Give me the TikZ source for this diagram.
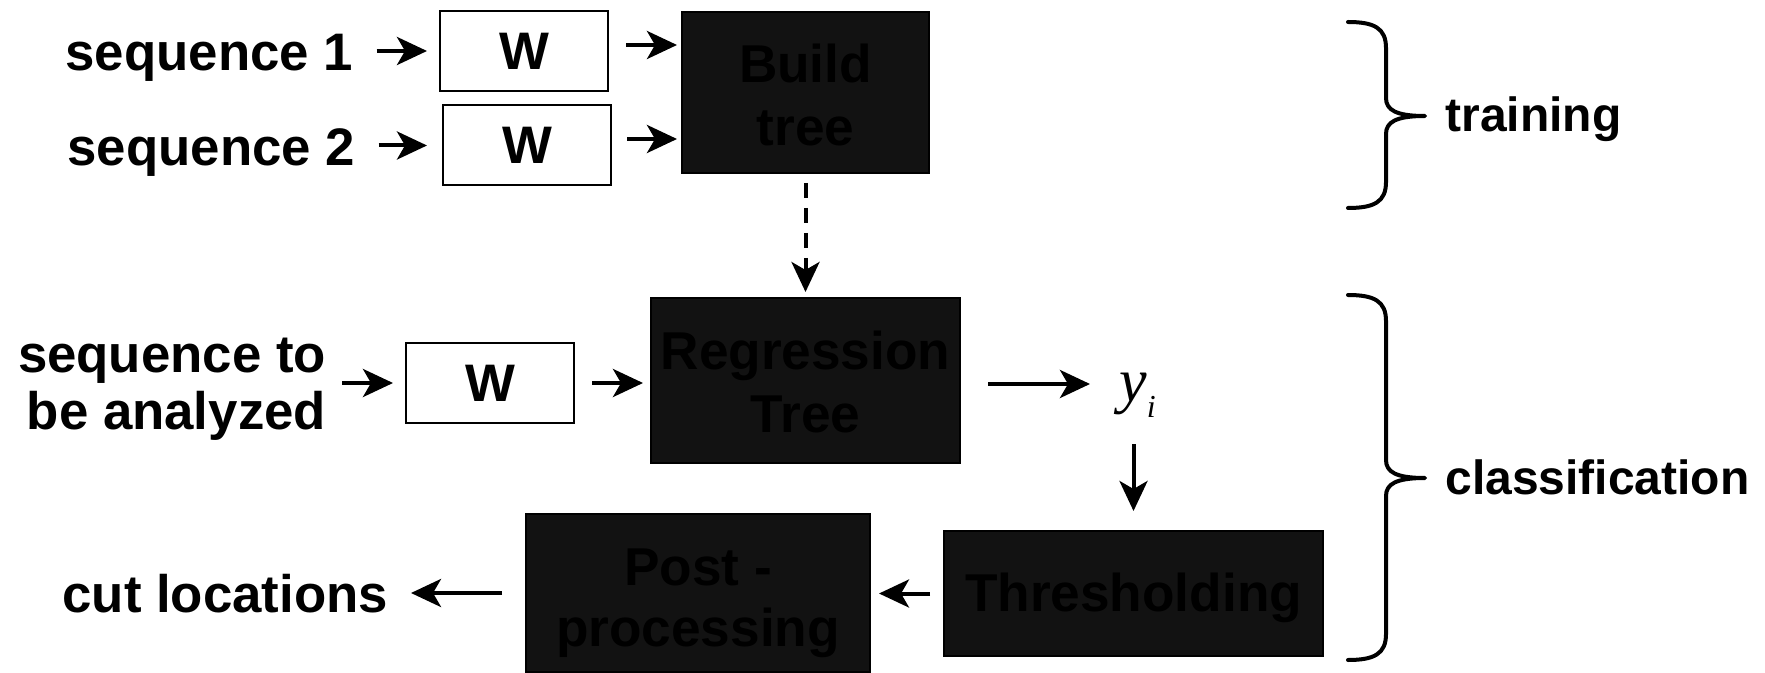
\documentclass[tikz,border=0pt]{standalone}
\usepackage{fontspec}
\setmainfont{Liberation Sans}
\newfontfamily\serifit{Liberation Serif}
\usetikzlibrary{arrows.meta}

% centred block of lines, lowered by #1 without changing its box
\newcommand\blocktext[2]{\raisebox{#1}[\height][\depth]{\begin{tabular}{@{}c@{}}#2\end{tabular}}}

\tikzset{
  lbl/.style={inner sep=0pt, font=\bfseries\fontsize{26.4}{28.5}\selectfont},
  sidelbl/.style={inner sep=0pt, font=\bfseries\fontsize{24}{28}\selectfont},
  wbox/.style={draw=black, line width=1pt, fill=white, minimum width=84pt,
    minimum height=40pt, inner sep=0pt, font=\bfseries\fontsize{26.4}{31.5}\selectfont},
  darkbox/.style={draw=black, line width=1pt, fill=black!93, text=black, inner sep=0pt},
  skip/.style={font=\bfseries\fontsize{26.6}{#1}\selectfont},
  arr/.style={line width=2pt, -{Stealth[length=15pt,width=14pt,inset=4pt]}},
  curly/.style={line width=2pt, line cap=round, line join=round},
}

\begin{document}
\begin{tikzpicture}[x=0.5pt,y=-0.5pt]
  \fill[white] (0,0) rectangle (1765,673);
  \useasboundingbox (0,0) rectangle (1765,673);

  % training inputs
  \node[lbl, anchor=base east] (seqA) at (353.5,71) {sequence 1};
  \node[lbl, anchor=base east] (seqB) at (355.5,166) {sequence 2};
  \node[wbox] (wA) at (524,51) {W};
  \node[wbox] (wB) at (527,145.5) {W};
  \node[darkbox, skip=31.5pt, minimum width=123.5pt, minimum height=80.5pt] (build)
    at (805.5,92.5) {\blocktext{-4.7pt}{Build\\tree}};

  % classification chain
  \node[lbl, anchor=east, align=right] (seqC) at (326.5,389) {sequence to\\be analyzed};
  \node[wbox] (wC) at (490,383) {W};
  \node[darkbox, skip=31.5pt, minimum width=154.5pt, minimum height=82.5pt] (reg)
    at (805.5,380.5) {\blocktext{-3.7pt}{Regression\\Tree}};
  \node[inner sep=0pt, anchor=base west] (yi) at (1119,401)
    {\serifit\itshape\fontsize{31}{31}\selectfont y\raisebox{-8pt}{\fontsize{16}{16}\selectfont i}};
  \node[darkbox, skip=31.5pt, minimum width=189.5pt, minimum height=62.5pt] (thr)
    at (1133.5,593.5) {\blocktext{-2.5pt}{Thresholding}};
  \node[darkbox, skip=30.5pt, minimum width=172pt, minimum height=79pt] (post)
    at (698,593) {\blocktext{-5.2pt}{Post -\\processing}};
  \node[lbl, anchor=base east] (cut) at (388.5,612) {cut locations};

  % group labels
  \node[sidelbl, anchor=base west] (train) at (1445,132) {training};
  \node[sidelbl, anchor=base west] (classif) at (1445,494) {classification};

  % connectors
  \draw[arr, shorten <=11.5pt, shorten >=6pt] (seqA.east |- wA.west) -- (wA.west);
  \draw[arr, shorten <=11.5pt, shorten >=7.5pt] (seqB.east |- wB.west) -- (wB.west);
  \draw[arr, shorten <=8.5pt, shorten >=2pt] ([yshift=3pt]wA.east) -- ([yshift=3pt]wA.east -| build.west);
  \draw[arr, shorten <=7.5pt, shorten >=2pt] ([yshift=3.25pt]wB.east) -- ([yshift=3.25pt]wB.east -| build.west);
  \draw[arr, dash pattern=on 7.5pt off 5pt, shorten <=4.5pt, shorten >=2.5pt] (build.south) -- (reg.north);
  \draw[arr, shorten <=7.75pt, shorten >=6pt] (seqC.east |- wC.west) -- (wC.west);
  \draw[arr, shorten <=8.5pt, shorten >=3.5pt] (wC.east) -- (wC.east -| reg.west);
  \draw[arr, shorten <=13.5pt, shorten >=14.5pt] ([yshift=-1.75pt]reg.east) -- ([yshift=-1.75pt]reg.east -| yi.west);
  \draw[arr, shorten <=13.5pt, shorten >=9.5pt] (thr.north |- yi.south) -- (thr.north);
  \draw[arr, shorten <=6.5pt, shorten >=4pt] (thr.west) -- (thr.west -| post.east);
  \draw[arr, shorten <=11.5pt, shorten >=11.25pt] (post.west) -- (post.west -| cut.east);

  % grouping braces
  \draw[curly] (1348,22) .. controls (1374,22) and (1386,28) .. (1386,48)
    -- (1386,98) .. controls (1386,110) and (1396,116) .. (1425,116)
    .. controls (1396,116) and (1386,122) .. (1386,134)
    -- (1386,182) .. controls (1386,202) and (1374,208) .. (1348,208);
  \draw[curly] (1348,295) .. controls (1374,295) and (1386,301) .. (1386,321)
    -- (1386,460) .. controls (1386,472) and (1396,478) .. (1425,478)
    .. controls (1396,478) and (1386,484) .. (1386,496)
    -- (1386,634) .. controls (1386,654) and (1374,660) .. (1348,660);
\end{tikzpicture}
\end{document}
